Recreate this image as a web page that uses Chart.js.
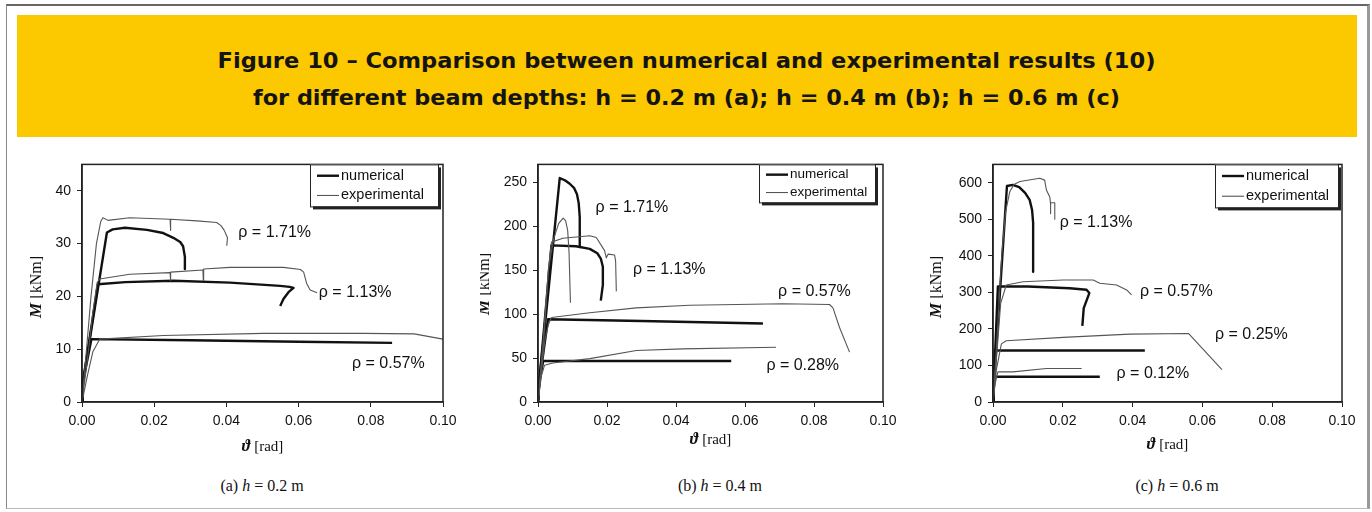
<!DOCTYPE html>
<html>
<head>
<meta charset="utf-8">
<script src="https://cdn.jsdelivr.net/npm/chart.js@4.4.1/dist/chart.umd.min.js"></script>
<style>
  body { margin: 0; width: 1372px; height: 512px; background: #fff; position: relative; overflow: hidden; }
  #frame { position: absolute; left: 6px; top: 4px; width: 1364px; height: 505px; border-top: 2px solid #666; border-left: 1px solid #888; border-bottom: 1px solid #bbb; border-right: 3px solid #999; box-sizing: border-box; }
  #banner { position: absolute; left: 17px; top: 15px; width: 1340px; height: 122px; background: #fcc800; }
  .titulo { position: absolute; left: 0; width: 100%; text-align: center; font: 600 21px "DejaVu Sans", sans-serif; color: #141414; white-space: nowrap; }
  .titulo span { display: inline-block; transform-origin: 50% 50%; }
  canvas { position: absolute; }
  .legenda { position: absolute; top: 477px; font: 16px "Liberation Serif", "Times New Roman", serif; color: #111; transform: translateX(-50%); white-space: nowrap; }
</style>
</head>
<body>
<div id="frame"></div>
<div id="banner">
  <div class="titulo" id="tit1" style="top: 34px;"><span>Figure 10 – Comparison between numerical and experimental results (10)</span></div>
  <div class="titulo" id="tit2" style="top: 71px;"><span>for different beam depths: h = 0.2 m (a); h = 0.4 m (b); h = 0.6 m (c)</span></div>
</div>

<canvas id="grafico-a" width="440" height="320" style="left:30px; top:150px;"></canvas>
<canvas id="grafico-b" width="430" height="320" style="left:480px; top:150px;"></canvas>
<canvas id="grafico-c" width="436" height="320" style="left:930px; top:150px;"></canvas>

<div class="legenda" style="left:262px;">(a) <i>h</i> = 0.2 m</div>
<div class="legenda" style="left:720px;">(b) <i>h</i> = 0.4 m</div>
<div class="legenda" style="left:1177px;">(c) <i>h</i> = 0.6 m</div>

<script>
// eixo x comum (rotação em rad)
const ticksRotacao = [0, 0.02, 0.04, 0.06, 0.08, 0.10];

// (a) h = 0.2 m  -> pares [rotação, momento]
const ticksMomentoA = [0, 10, 20, 30, 40];
const aNum171 = [[0,0],[0.0002,3.5],[0.0069,32.1],[0.0085,32.7],[0.0119,33.0],[0.018,32.6],[0.0225,32.0],[0.0253,31.1],[0.0272,30.3],[0.028,29.5],[0.0285,27.5],[0.0285,25.2]];
const aNum113 = [[0,0],[0.0002,3.5],[0.0044,22.3],[0.012,22.7],[0.0253,22.95],[0.041,22.6],[0.0549,22.0],[0.0575,21.8],[0.0586,21.6],[0.0572,20.8],[0.0558,19.5],[0.0549,18.2]];
const aNum057 = [[0,0],[0.0002,3.5],[0.0026,11.9],[0.03,11.7],[0.06,11.4],[0.0859,11.2]];
const aExp171 = [[0,0],[0.001,8],[0.0025,20],[0.004,30],[0.0052,34.2],[0.0058,34.9],[0.0072,34.4],[0.0132,34.9],[0.0244,34.6],[0.0245,32.5],[0.0246,34.6],[0.0318,34.3],[0.0373,34.0],[0.0385,33.4],[0.0394,32.5],[0.0403,31.1],[0.0401,29.6]];
const aExp113 = [[0,0],[0.0015,8],[0.003,17],[0.0042,22.6],[0.0049,23.3],[0.0132,24.2],[0.0244,24.5],[0.0245,23.0],[0.0246,24.6],[0.0335,25.0],[0.0336,23.0],[0.0337,25.2],[0.041,25.5],[0.0558,25.5],[0.0605,25.1],[0.0614,24.6],[0.0622,22.5],[0.0632,21.2],[0.0651,20.7]];
const aExp057 = [[0,0],[0.0015,5],[0.003,9.5],[0.0049,11.9],[0.0225,12.6],[0.0503,13.0],[0.078,13.0],[0.092,12.9],[0.1,11.9]];
const rotulosA = [["ρ = 1.71%", 0.0433, 32.1], ["ρ = 1.13%", 0.0656, 20.75], ["ρ = 0.57%", 0.0748, 7.2]];

// (b) h = 0.4 m
const ticksMomentoB = [0, 50, 100, 150, 200, 250];
const bNum171 = [[0,0],[0.0003,20],[0.0063,254.5],[0.0078,252],[0.0092,248],[0.0105,243],[0.0113,236],[0.0118,226],[0.0121,210],[0.0121,176]];
const bNum113 = [[0,0],[0.0003,20],[0.0039,178],[0.011,177],[0.015,174],[0.0172,169],[0.0182,163],[0.0188,153.7],[0.0188,133],[0.0182,115.3]];
const bNum057 = [[0,0],[0.0003,20],[0.0029,94],[0.03,92],[0.0652,89.2]];
const bNum028 = [[0,0],[0.0003,20],[0.0015,46.6],[0.056,46.6]];
const bExp171 = [[0,0],[0.0015,70],[0.003,150],[0.0045,185],[0.006,203],[0.0073,209],[0.008,206],[0.0086,195],[0.009,170],[0.0094,112.7]];
const bExp113 = [[0,0],[0.0015,60],[0.003,150],[0.0039,181.7],[0.0072,186],[0.015,189],[0.0169,187],[0.0193,172],[0.0198,163.8],[0.0203,168],[0.0222,167],[0.0225,160],[0.0227,125.7]];
const bExp057 = [[0,0],[0.001,35],[0.002,70],[0.003,88],[0.0039,96],[0.015,101.5],[0.0285,107],[0.044,110],[0.071,111.6],[0.0845,110.8],[0.0855,107],[0.0874,84.7],[0.0903,56.7]];
const bExp028 = [[0,0],[0.001,30],[0.0019,41.8],[0.0043,44.4],[0.015,49.3],[0.0285,58.6],[0.042,60.4],[0.069,62.3]];
const rotulosB = [["ρ = 1.71%", 0.0167, 221], ["ρ = 1.13%", 0.0275, 150], ["ρ = 0.57%", 0.0696, 125.7], ["ρ = 0.28%", 0.0662, 41.8]];

// (c) h = 0.6 m
const ticksMomentoC = [0, 100, 200, 300, 400, 500, 600];
const cNum113 = [[0,0],[0.0002,40],[0.004,591],[0.0057,594],[0.0075,588],[0.0092,572],[0.0105,553],[0.0112,525],[0.0115,490],[0.0115,356]];
const cNum057 = [[0,0],[0.0002,40],[0.0014,316],[0.01,316],[0.022,311],[0.0268,307],[0.0276,298],[0.026,257],[0.0256,208]];
const cNum025 = [[0,0],[0.0002,40],[0.0005,141],[0.0435,141]];
const cNum012 = [[0,0],[0.0002,40],[0.0005,69],[0.0306,69]];
const cExp113 = [[0,0],[0.001,150],[0.0025,400],[0.0036,520],[0.0048,575],[0.006,595],[0.0077,603],[0.0134,612],[0.0148,607],[0.0153,580],[0.0163,560],[0.0165,540],[0.0165,515],[0.0165,545],[0.0177,545],[0.0177,500]];
const cExp057 = [[0,0],[0.001,120],[0.0022,270],[0.0038,320],[0.0086,329],[0.0201,333.6],[0.0287,333.6],[0.0306,324.7],[0.0354,320],[0.0383,306.7],[0.0397,293]];
const cExp025 = [[0,0],[0.001,90],[0.0024,159],[0.0038,167.7],[0.0201,176.7],[0.0392,185.7],[0.056,187.4],[0.0656,88.8]];
const cExp012 = [[0,0],[0.0006,50],[0.0014,82.5],[0.0057,82.5],[0.0153,91.5],[0.0254,91.5]];
const rotulosC = [["ρ = 1.13%", 0.0191, 490], ["ρ = 0.57%", 0.0421, 302], ["ρ = 0.25%", 0.0636, 185.7], ["ρ = 0.12%", 0.0354, 78]];

const COR_NUM = "#111";
const COR_EXP = "#555";
const FONTE = '"Liberation Sans", Arial, sans-serif';

// estica o título para a largura da figura original
[["tit1", 938], ["tit2", 867]].forEach(([id, alvo]) => {
  const span = document.querySelector("#" + id + " span");
  const larg = span.getBoundingClientRect().width;
  span.style.transform = "scaleX(" + (alvo / larg) + ")";
});

function serie(pares, numerico) {
  return {
    data: pares.map(p => ({ x: p[0], y: p[1] })),
    borderColor: numerico ? COR_NUM : COR_EXP,
    borderWidth: numerico ? 2.4 : 1.1,
    borderJoinStyle: "round",
    pointRadius: 0,
    showLine: true,
    fill: false,
    tension: 0
  };
}

// moldura + legenda + rótulos + títulos dos eixos
const pluginDesenho = {
  id: "desenho",
  afterDraw(chart) {
    const c = chart.ctx;
    const a = chart.chartArea;
    const cfg = chart.options.plugins.desenho;
    c.save();
    // moldura
    c.strokeStyle = "#222";
    c.lineWidth = 1.5;
    c.strokeRect(a.left, a.top, a.right - a.left, a.bottom - a.top);

    // legenda com sombra
    const lg = cfg.legenda;
    const lx = a.right - lg.dx - lg.w;
    const ly = a.top;
    c.fillStyle = "#222";
    c.fillRect(lx + 3, ly + 3, lg.w, lg.h);
    c.fillStyle = "#fff";
    c.fillRect(lx, ly, lg.w, lg.h);
    c.lineWidth = 1;
    c.strokeRect(lx + 0.5, ly + 0.5, lg.w, lg.h);
    c.font = lg.fs + "px " + FONTE;
    c.textBaseline = "middle";
    c.textAlign = "left";
    const itens = [["numerical", COR_NUM, 2.4], ["experimental", COR_EXP, 1.1]];
    itens.forEach((it, i) => {
      const yy = ly + lg.h * (i === 0 ? 0.27 : 0.74);
      c.strokeStyle = it[1];
      c.lineWidth = it[2];
      c.beginPath();
      c.moveTo(lx + 7, yy);
      c.lineTo(lx + 29, yy);
      c.stroke();
      c.fillStyle = "#111";
      c.fillText(it[0], lx + 31, yy);
    });

    // rótulos ρ
    const sx = chart.scales.x, sy = chart.scales.y;
    c.font = "16px " + FONTE;
    c.fillStyle = "#111";
    cfg.rotulos.forEach(r => {
      c.fillText(r[0], sx.getPixelForValue(r[1]), sy.getPixelForValue(r[2]));
    });

    // título eixo x:  ϑ [rad]
    const cx = (a.left + a.right) / 2;
    const ty = cfg.tituloX;
    c.font = "bold italic 16px 'Liberation Serif', serif";
    const w1 = c.measureText("ϑ ").width;
    c.font = "15px 'Liberation Serif', serif";
    const w2 = c.measureText("[rad]").width;
    let x0 = cx - (w1 + w2) / 2;
    c.font = "bold italic 16px 'Liberation Serif', serif";
    c.fillText("ϑ ", x0, ty);
    c.font = "15px 'Liberation Serif', serif";
    c.fillText("[rad]", x0 + w1, ty);

    // título eixo y:  M [kNm]
    c.translate(cfg.tituloY[0], cfg.tituloY[1]);
    c.rotate(-Math.PI / 2);
    c.font = "bold italic 17px 'Liberation Serif', serif";
    const m1 = c.measureText("M ").width;
    c.font = "16px 'Liberation Serif', serif";
    const m2 = c.measureText("[kNm]").width;
    x0 = -(m1 + m2) / 2;
    c.font = "bold italic 17px 'Liberation Serif', serif";
    c.fillText("M ", x0, 0);
    c.font = "16px 'Liberation Serif', serif";
    c.fillText("[kNm]", x0 + m1, 0);
    c.restore();
  }
};

function criarGrafico(id, series, opc) {
  const ctx = document.getElementById(id).getContext("2d");
  return new Chart(ctx, {
    type: "scatter",
    data: { datasets: series },
    options: {
      responsive: false,
      animation: false,
      devicePixelRatio: 1,
      layout: { padding: { top: opc.padTopo, right: opc.padDir, left: 0, bottom: 0 } },
      plugins: {
        legend: { display: false },
        tooltip: { enabled: false },
        desenho: { legenda: opc.legenda, rotulos: opc.rotulos, tituloX: opc.tituloX, tituloY: opc.tituloY }
      },
      scales: {
        x: {
          type: "linear",
          min: 0,
          max: 0.1,
          afterBuildTicks: s => { s.ticks = ticksRotacao.map(v => ({ value: v })); },
          afterFit: s => { s.height = opc.altX; },
          ticks: { callback: v => v.toFixed(2), font: { family: FONTE, size: 14 }, color: "#111", padding: 6, maxRotation: 0, autoSkip: false },
          grid: { drawOnChartArea: false, tickLength: 5, color: "#222" },
          border: { color: "#222", width: 1.5 }
        },
        y: {
          type: "linear",
          min: 0,
          max: opc.maxY,
          afterBuildTicks: s => { s.ticks = opc.ticksY.map(v => ({ value: v })); },
          afterFit: s => { s.width = opc.largY; },
          ticks: { font: { family: FONTE, size: 14 }, color: "#111", padding: 6, autoSkip: false },
          grid: { drawOnChartArea: false, tickLength: 5, color: "#222" },
          border: { color: "#222", width: 1.5 }
        }
      }
    },
    plugins: [pluginDesenho]
  });
}

criarGrafico("grafico-a",
  [serie(aExp171, false), serie(aExp113, false), serie(aExp057, false), serie(aNum171, true), serie(aNum113, true), serie(aNum057, true)],
  { maxY: 45, ticksY: ticksMomentoA, padTopo: 13, padDir: 27, largY: 52, altX: 68,
    legenda: { w: 128, h: 42, dx: 5, fs: 14.5 }, rotulos: rotulosA, tituloX: 297, tituloY: [7, 137] });

criarGrafico("grafico-b",
  [serie(bExp171, false), serie(bExp113, false), serie(bExp057, false), serie(bExp028, false), serie(bNum171, true), serie(bNum113, true), serie(bNum057, true), serie(bNum028, true)],
  { maxY: 270, ticksY: ticksMomentoB, padTopo: 12, padDir: 27, largY: 58, altX: 68,
    legenda: { w: 116, h: 38, dx: 8, fs: 13.5 }, rotulos: rotulosB, tituloX: 290, tituloY: [5, 134] });

criarGrafico("grafico-c",
  [serie(cExp113, false), serie(cExp057, false), serie(cExp025, false), serie(cExp012, false), serie(cNum113, true), serie(cNum057, true), serie(cNum025, true), serie(cNum012, true)],
  { maxY: 650, ticksY: ticksMomentoC, padTopo: 10, padDir: 24, largY: 63, altX: 68,
    legenda: { w: 123, h: 43, dx: 4, fs: 14.5 }, rotulos: rotulosC, tituloX: 295, tituloY: [7, 137] });
</script>
</body>
</html>
